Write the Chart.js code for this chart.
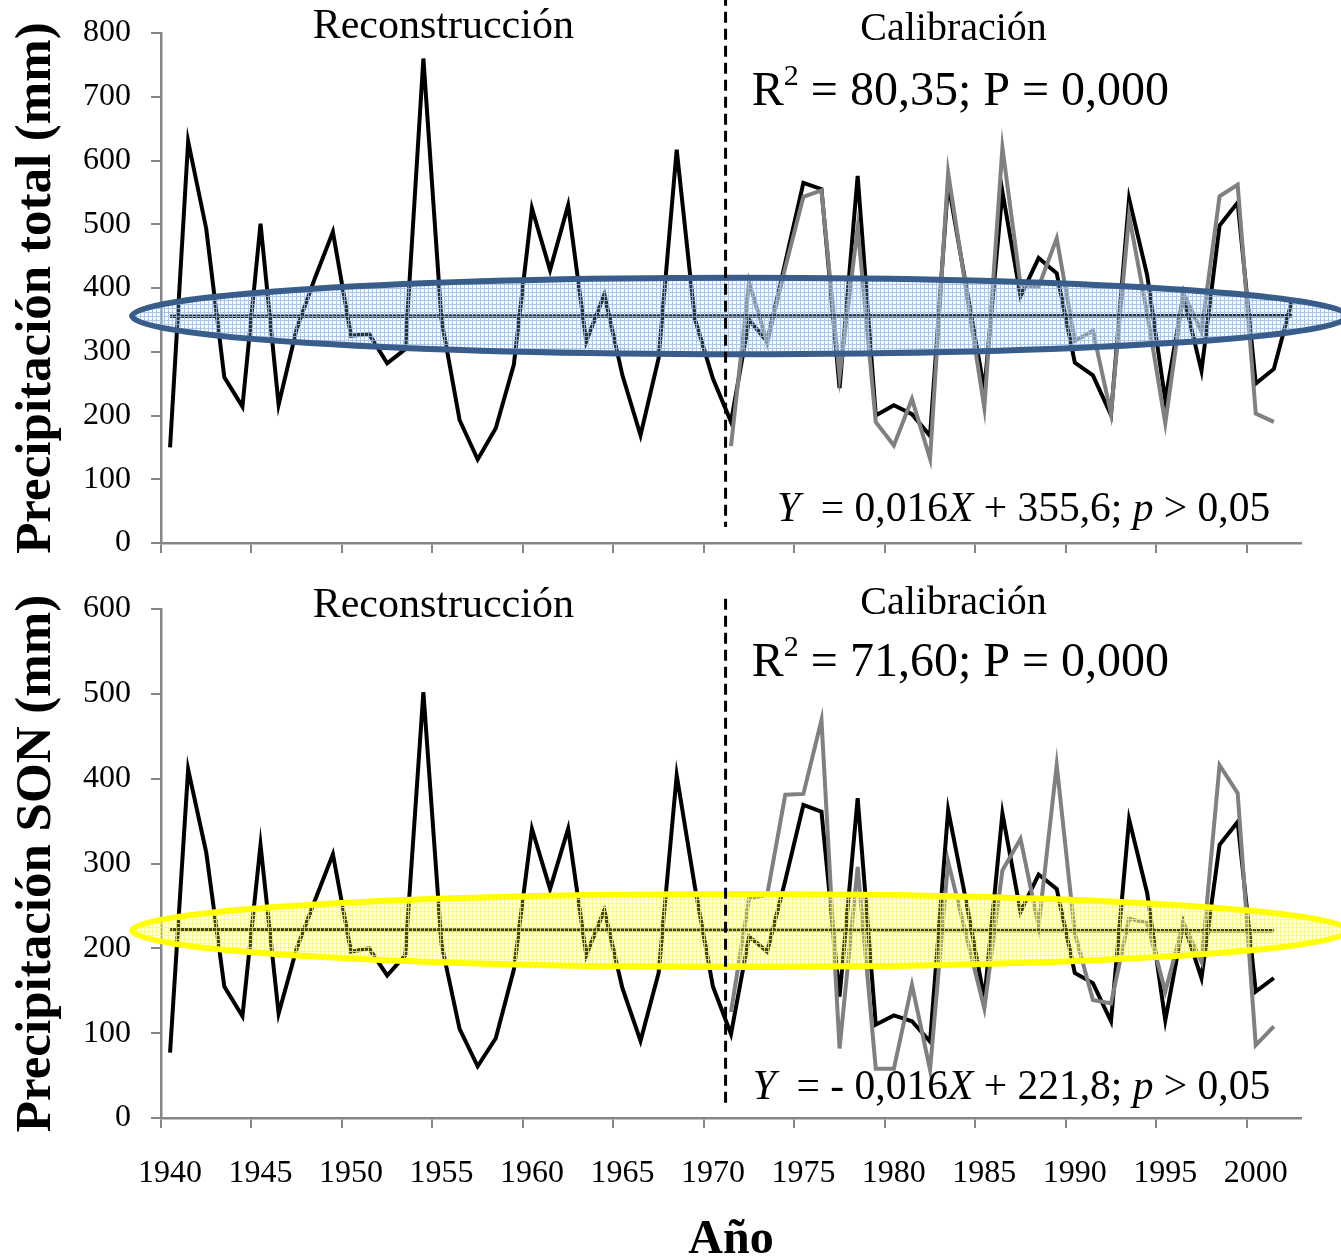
<!DOCTYPE html>
<html><head>
<meta charset="UTF-8">
<title>Precipitación total y SON: reconstrucción y calibración</title>
<style>
  body { margin: 0; background: #fff; }
  #wrap { position: relative; width: 1341px; height: 1260px; }
  canvas { position: absolute; left: 0; }
  #topChart { top: 0; }
  #bottomChart { top: 575px; }
</style>
<script src="https://cdn.jsdelivr.net/npm/chart.js"></script>
</head>
<body>
<div id="wrap">
  <canvas id="topChart" width="1341" height="575"></canvas>
  <canvas id="bottomChart" width="1341" height="685"></canvas>
</div>

<script>
// categories (one per year)
const years = [1940, 1941, 1942, 1943, 1944, 1945, 1946, 1947, 1948, 1949,
  1950, 1951, 1952, 1953, 1954, 1955, 1956, 1957, 1958, 1959,
  1960, 1961, 1962, 1963, 1964, 1965, 1966, 1967, 1968, 1969,
  1970, 1971, 1972, 1973, 1974, 1975, 1976, 1977, 1978, 1979,
  1980, 1981, 1982, 1983, 1984, 1985, 1986, 1987, 1988, 1989,
  1990, 1991, 1992, 1993, 1994, 1995, 1996, 1997, 1998, 1999,
  2000, 2001, 2002];

// precipitacion total, reconstruida 1940-2002
const totalRecon = [150, 630, 493, 260, 214, 501, 217, 336, 415, 488,
  325, 328, 282, 304, 760, 350, 193, 131, 180, 280,
  525, 428, 530, 316, 390, 263, 169, 290, 617, 352,
  258, 190, 350, 316, 440, 565, 555, 243, 576, 200,
  216, 202, 168, 565, 402, 240, 551, 387, 447, 423,
  283, 263, 201, 540, 420, 224, 389, 270, 498, 534,
  250, 273, 380];
// precipitacion total, observada 1971-2001
const totalObs = [152, 409, 314, 432, 543, 553, 262, 495, 190,
  153, 226, 132, 581, 395, 212, 620, 405, 402, 478,
  317, 333, 203, 513, 360, 188, 392, 332, 544, 562,
  203, 190];

// precipitacion SON, reconstruida 1940-2001
const sonRecon = [77, 411, 313, 155, 120, 322, 123, 200, 256, 311,
  196, 200, 168, 192, 502, 205, 105, 61, 94, 175,
  341, 270, 341, 192, 245, 153, 91, 171, 404, 273,
  155, 99, 214, 196, 280, 369, 361, 143, 377, 110,
  121, 114, 90, 363, 255, 140, 359, 243, 287, 270,
  171, 159, 114, 352, 265, 115, 230, 165, 322, 349,
  149, 165];
// precipitacion SON, observada 1971-2001
const sonObs = [125, 259, 263, 381, 382, 469, 82, 296, 58,
  58, 157, 57, 302, 215, 129, 292, 329, 226, 416,
  218, 139, 135, 235, 230, 149, 230, 184, 416, 383,
  86, 108];

const obsStart = 1971;
// trend line end values (first and last year)
const totalTrend = [355.6, 356.6];
const sonTrend = [221.8, 220.8];

const SERIF = "'Liberation Serif', 'Times New Roman', serif";
const AXIS = '#868686';

function place(values, startYear) {
  const out = years.map(() => null);
  values.forEach((v, i) => { out[years.indexOf(startYear) + i] = v; });
  return out;
}

function trendLine(ends, lastYear) {
  const out = years.map(() => null);
  out[0] = ends[0];
  out[years.indexOf(lastYear)] = ends[1];
  return out;
}

// grid pattern: coloured lines, transparent cells so the series show through
function makePattern(ctx, base, line) {
  const c = document.createElement('canvas');
  c.width = 4; c.height = 4;
  const g = c.getContext('2d');
  g.fillStyle = base; g.fillRect(1, 1, 3, 3);
  g.fillStyle = line; g.fillRect(0, 0, 4, 1); g.fillRect(0, 1, 1, 3);
  return ctx.createPattern(c, 'repeat');
}

function drawRuns(ctx, runs, x, y, size, align) {
  const fontFor = r => (r.italic ? 'italic ' : '') + (r.size || size) + 'px ' + SERIF;
  let total = 0;
  runs.forEach(r => { ctx.font = fontFor(r); total += ctx.measureText(r.text).width; });
  let cx = align === 'right' ? x - total : align === 'center' ? x - total / 2 : x;
  ctx.textAlign = 'left';
  ctx.textBaseline = 'middle';
  ctx.fillStyle = '#000';
  runs.forEach(r => {
    ctx.font = fontFor(r);
    ctx.fillText(r.text, cx, y + (r.rise || 0));
    cx += ctx.measureText(r.text).width;
  });
}

// ellipse, divider and labels drawn over the lines
function overlay(p) {
  return {
    id: 'overlay',
    afterDatasetsDraw(chart) {
      const {ctx, scales: {x, y}} = chart;
      const xi = yr => x.getPixelForValue(yr - years[0]);
      ctx.save();

      const e = p.ellipse;
      const cx = xi(e.centerYear);
      const rx = xi(e.centerYear + e.halfYears) - cx;
      const cy = y.getPixelForValue(e.value);
      const ry = cy - y.getPixelForValue(e.value + e.halfValue);
      ctx.beginPath();
      ctx.ellipse(cx, cy, rx, ry, 0, 0, Math.PI * 2);
      ctx.fillStyle = makePattern(ctx, e.base, e.grid);
      ctx.fill();
      ctx.lineWidth = 6;
      ctx.strokeStyle = e.stroke;
      ctx.stroke();

      const d = p.divider;
      ctx.beginPath();
      ctx.setLineDash([11, 6]);
      ctx.lineWidth = 3;
      ctx.strokeStyle = '#000';
      ctx.moveTo(xi(d.year), y.getPixelForValue(d.from));
      ctx.lineTo(xi(d.year), y.getPixelForValue(d.to));
      ctx.stroke();
      ctx.setLineDash([]);

      p.labels.forEach(l => drawRuns(ctx, l.runs, xi(l.year), y.getPixelForValue(l.value), l.size, l.align));
      ctx.restore();
    }
  };
}

function build(id, cfg) {
  return new Chart(document.getElementById(id), {
    type: 'line',
    data: {
      labels: years,
      datasets: [
        {label: 'Tendencia', data: cfg.trend, borderColor: '#000', borderWidth: 3.5, spanGaps: true},
        {label: 'Observada', data: cfg.obs, borderColor: '#808080', borderWidth: 4},
        {label: 'Reconstruida', data: cfg.recon, borderColor: '#000', borderWidth: 4}
      ]
    },
    options: {
      responsive: false,
      animation: false,
      elements: {point: {radius: 0}, line: {tension: 0}},
      layout: {padding: {top: cfg.padTop, right: 40, left: 0, bottom: 0}},
      plugins: {legend: {display: false}, tooltip: {enabled: false}},
      scales: {
        x: {
          type: 'category',
          offset: true,
          grid: {
            offset: true, drawOnChartArea: false, tickLength: 10, lineWidth: 2,
            tickColor: c => (years[c.index] % 5 === 0 ? AXIS : 'rgba(0,0,0,0)')
          },
          border: {color: AXIS, width: 2.5},
          ticks: {
            display: cfg.showYears, autoSkip: false, maxRotation: 0, minRotation: 0,
            padding: 26, color: '#000', font: {family: SERIF, size: 32},
            callback: (v, i) => (years[i] % 5 === 0 ? String(years[i]) : '')
          },
          title: {
            display: cfg.showYears, text: 'Año', color: '#000',
            font: {family: SERIF, size: 48, weight: 'bold', lineHeight: 0.8},
            padding: {top: 0, bottom: 0}
          },
          afterFit: s => { s.height = cfg.xHeight; }
        },
        y: {
          min: 0, max: cfg.max,
          ticks: {stepSize: 100, padding: 20, color: '#000', font: {family: SERIF, size: 32}},
          grid: {drawOnChartArea: false, tickLength: 10, color: AXIS, lineWidth: 2},
          border: {color: AXIS, width: 2.5},
          title: {
            display: true, text: cfg.yTitle, color: '#000',
            font: {family: SERIF, size: 51, weight: 'bold', lineHeight: 1},
            padding: {top: 11, bottom: 0}
          },
          afterFit: s => { s.width = 161; s.paddingTop = 0; s.paddingBottom = 0; }
        }
      }
    },
    plugins: [overlay(cfg.overlay)]
  });
}

build('topChart', {
  recon: totalRecon,
  obs: place(totalObs, obsStart),
  trend: trendLine(totalTrend, 2002),
  max: 800, padTop: 33, xHeight: 32, showYears: false,
  yTitle: 'Precipitación total (mm)',
  overlay: {
    ellipse: {centerYear: 1971.5, halfYears: 33.6, value: 356, halfValue: 60,
      stroke: '#385d8a', base: 'rgba(220,232,247,0.2)', grid: 'rgba(160,188,226,0.85)'},
    divider: {year: 1970.7, from: 860, to: 25},
    labels: [
      {runs: [{text: 'Reconstrucción'}], year: 1955.1, value: 809, size: 42, align: 'center'},
      {runs: [{text: 'Calibración'}], year: 1983.3, value: 805, size: 40, align: 'center'},
      {runs: [{text: 'R'}, {text: '2', size: 30, rise: -15}, {text: ' = 80,35; P = 0,000'}],
        year: 1972.15, value: 707, size: 48, align: 'left'},
      {runs: [{text: 'Y', italic: true}, {text: '  = 0,016'}, {text: 'X', italic: true},
        {text: ' + 355,6; '}, {text: 'p', italic: true}, {text: ' > 0,05'}],
        year: 2000.8, value: 52, size: 41.5, align: 'right'}
    ]
  }
});

build('bottomChart', {
  recon: place(sonRecon, 1940),
  obs: place(sonObs, obsStart),
  trend: trendLine(sonTrend, 2001),
  max: 600, padTop: 34, xHeight: 142, showYears: true,
  yTitle: 'Precipitación SON (mm)',
  overlay: {
    ellipse: {centerYear: 1971.5, halfYears: 33.6, value: 221, halfValue: 43,
      stroke: '#ffff00', base: 'rgba(255,255,205,0.25)', grid: 'rgba(250,250,110,0.85)'},
    divider: {year: 1970.7, from: 612, to: 15},
    labels: [
      {runs: [{text: 'Reconstrucción'}], year: 1955.1, value: 603.5, size: 42, align: 'center'},
      {runs: [{text: 'Calibración'}], year: 1983.3, value: 606, size: 40, align: 'center'},
      {runs: [{text: 'R'}, {text: '2', size: 30, rise: -15}, {text: ' = 71,60; P = 0,000'}],
        year: 1972.15, value: 536.4, size: 48, align: 'left'},
      {runs: [{text: 'Y', italic: true}, {text: '  = - 0,016'}, {text: 'X', italic: true},
        {text: ' + 221,8; '}, {text: 'p', italic: true}, {text: ' > 0,05'}],
        year: 2000.8, value: 35.4, size: 41.5, align: 'right'}
    ]
  }
});
</script>
</body></html>
